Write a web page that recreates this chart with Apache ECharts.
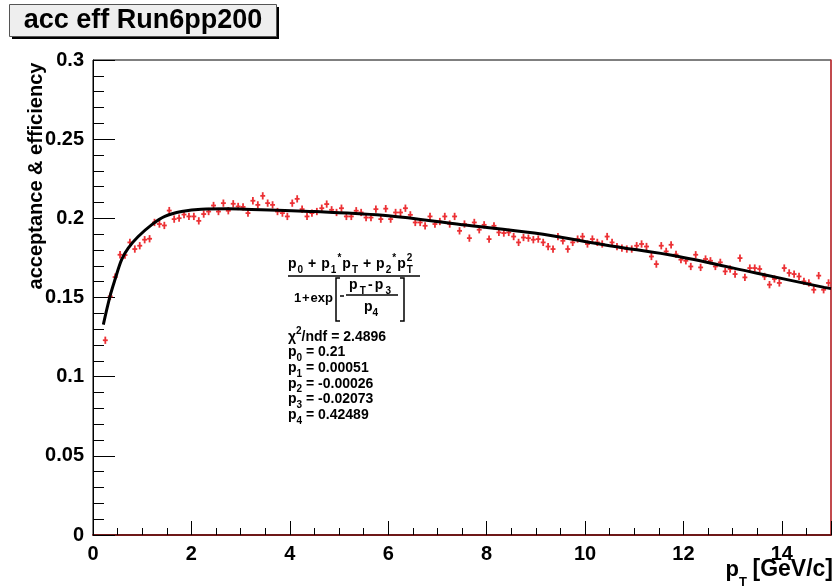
<!DOCTYPE html>
<html>
<head>
<meta charset="utf-8">
<script src="https://cdn.jsdelivr.net/npm/echarts@6/dist/echarts.min.js"></script>
<style>
  html, body { margin: 0; padding: 0; background: #fff; }
  #chart { width: 832px; height: 587px; }
</style>
</head>
<body>
<div id="chart"></div>
<script>
// bin centres, GeV/c
var pT = [
  0.25, 0.35, 0.45, 0.55, 0.65, 0.75, 0.85, 0.95, 1.05, 1.15,
  1.25, 1.35, 1.45, 1.55, 1.65, 1.75, 1.85, 1.95, 2.05, 2.15,
  2.25, 2.35, 2.45, 2.55, 2.65, 2.75, 2.85, 2.95, 3.05, 3.15,
  3.25, 3.35, 3.45, 3.55, 3.65, 3.75, 3.85, 3.95, 4.05, 4.15,
  4.25, 4.35, 4.45, 4.55, 4.65, 4.75, 4.85, 4.95, 5.05, 5.15,
  5.25, 5.35, 5.45, 5.55, 5.65, 5.75, 5.85, 5.95, 6.05, 6.15,
  6.25, 6.35, 6.45, 6.55, 6.65, 6.75, 6.85, 6.95, 7.05, 7.15,
  7.25, 7.35, 7.45, 7.55, 7.65, 7.75, 7.85, 7.95, 8.05, 8.15,
  8.25, 8.35, 8.45, 8.55, 8.65, 8.75, 8.85, 8.95, 9.05, 9.15,
  9.25, 9.35, 9.45, 9.55, 9.65, 9.75, 9.85, 9.95, 10.05, 10.15,
  10.25, 10.35, 10.45, 10.55, 10.65, 10.75, 10.85, 10.95, 11.05, 11.15,
  11.25, 11.35, 11.45, 11.55, 11.65, 11.75, 11.85, 11.95, 12.05, 12.15,
  12.25, 12.35, 12.45, 12.55, 12.65, 12.75, 12.85, 12.95, 13.05, 13.15,
  13.25, 13.35, 13.45, 13.55, 13.65, 13.75, 13.85, 13.95, 14.05, 14.15,
  14.25, 14.35, 14.45, 14.55, 14.65, 14.75, 14.85, 14.95
];

// acceptance x efficiency per bin
var accEff = [
  0.1230, 0.1507, 0.1629, 0.1770, 0.1768, 0.1848, 0.1806, 0.1827, 0.1865, 0.1871,
  0.1974, 0.1964, 0.1955, 0.2049, 0.1995, 0.2001, 0.2024, 0.2012, 0.2012, 0.1984,
  0.2027, 0.2043, 0.2081, 0.2043, 0.2096, 0.2048, 0.2092, 0.2075, 0.2072, 0.2033,
  0.2111, 0.2085, 0.2142, 0.2096, 0.2085, 0.2043, 0.2033, 0.2012, 0.2096, 0.2123,
  0.2058, 0.2012, 0.2033, 0.2043, 0.2064, 0.2090, 0.2054, 0.2037, 0.2064, 0.2012,
  0.2012, 0.2048, 0.2037, 0.2005, 0.2005, 0.2058, 0.1995, 0.2061, 0.1995, 0.2037,
  0.2037, 0.2064, 0.2022, 0.1974, 0.1974, 0.1953, 0.2012, 0.1964, 0.1980, 0.2012,
  0.1964, 0.2012, 0.1921, 0.1964, 0.1875, 0.1974, 0.1928, 0.1959, 0.1869, 0.1953,
  0.1911, 0.1907, 0.1911, 0.1885, 0.1848, 0.1879, 0.1875, 0.1865, 0.1869, 0.1848,
  0.1822, 0.1806, 0.1885, 0.1858, 0.1806, 0.1848, 0.1869, 0.1885, 0.1838, 0.1869,
  0.1848, 0.1838, 0.1885, 0.1848, 0.1822, 0.1812, 0.1806, 0.1806, 0.1827, 0.1838,
  0.1822, 0.1759, 0.1711, 0.1827, 0.1791, 0.1833, 0.1772, 0.1739, 0.1732, 0.1696,
  0.1770, 0.1690, 0.1743, 0.1732, 0.1696, 0.1722, 0.1665, 0.1680, 0.1648, 0.1749,
  0.1627, 0.1686, 0.1686, 0.1680, 0.1633, 0.1581, 0.1617, 0.1592, 0.1686, 0.1655,
  0.1648, 0.1633, 0.1602, 0.1592, 0.1549, 0.1638, 0.1549, 0.1592
];

// fit curve
var fitPt  = [0.21, 0.345, 0.446, 0.582, 0.716, 0.919, 1.19, 1.46, 1.80, 2.20, 2.74, 3.08, 4.5, 6.0, 7.5, 8.97, 10.5, 11.9, 13.5, 14.86, 15.0];
var fitVal = [0.1329, 0.1507, 0.1612, 0.1739, 0.1812, 0.1885, 0.1959, 0.2012, 0.2043, 0.2058, 0.2060, 0.2058, 0.2043, 0.2017, 0.1960, 0.1907, 0.1827, 0.1759, 0.1653, 0.1564, 0.1556];

var parNames  = ['0', '1', '2', '3', '4'];
var parValues = ['0.21', '0.00051', '-0.00026', '-0.02073', '0.42489'];
var chi2ndf = '2.4896';

var yErr = 0.0023;
var halfBin = 0.05;

var FONT = '"Liberation Sans", Arial, Helvetica, sans-serif';
var RED = '#ec3034';

var measureCtx = document.createElement('canvas').getContext('2d');

// lay out a run of text pieces with sub/superscripts
function mathRun(x, y, pieces, size, targetWidth) {
  var widths = [];
  var natural = 0;
  pieces.forEach(function (p) {
    var fs = p.s ? Math.round(size * 0.72) : size;
    measureCtx.font = 'bold ' + fs + 'px ' + FONT;
    var w = p.stay ? 0 : measureCtx.measureText(p.t).width;
    widths.push(w);
    natural += w;
  });
  var extra = 0;
  if (targetWidth && pieces.length > 1) {
    extra = (targetWidth - natural) / (pieces.length - 1);
  }
  var els = [];
  var cx = x;
  pieces.forEach(function (p, i) {
    var fs = p.s ? Math.round(size * 0.72) : size;
    var dy = p.s === 'sub' ? size * 0.42 : (p.s === 'sup' ? -size * 0.42 : 0);
    els.push({
      type: 'text', x: cx, y: y + dy, z: 50,
      style: {
        text: p.t, fill: '#000',
        font: 'bold ' + fs + 'px ' + FONT,
        verticalAlign: 'middle', align: 'left'
      }
    });
    if (!p.stay) cx += widths[i] + extra;
  });
  return els;
}

function seg(x1, y1, x2, y2, w) {
  return { type: 'line', z: 50, shape: { x1: x1, y1: y1, x2: x2, y2: y2 }, style: { stroke: '#000', lineWidth: w || 1.5 } };
}

var graphics = [];

// title box with shadow
graphics.push({ type: 'rect', z: 40, shape: { x: 12, y: 7, width: 267, height: 32 }, style: { fill: '#000' } });
graphics.push({ type: 'rect', z: 41, shape: { x: 9.5, y: 4.5, width: 267, height: 32 }, style: { fill: '#eeeeee', stroke: '#555', lineWidth: 1 } });
graphics.push({ type: 'text', z: 42, x: 143, y: 21, style: { text: 'acc eff Run6pp200', fill: '#000', font: 'bold 27px ' + FONT, align: 'center', verticalAlign: 'middle' } });

// axis titles
graphics.push({ type: 'text', z: 42, x: 36, y: 176, rotation: Math.PI / 2, style: { text: 'acceptance & efficiency', fill: '#000', font: 'bold 20px ' + FONT, align: 'center', verticalAlign: 'middle' } });
graphics.push({ type: 'text', z: 42, x: 833, y: 570, style: { text: '[GeV/c]', fill: '#000', font: 'bold 23px ' + FONT, align: 'right', verticalAlign: 'middle' } });
graphics.push({ type: 'text', z: 42, x: 739, y: 570, style: { text: 'p', fill: '#000', font: 'bold 22px ' + FONT, align: 'right', verticalAlign: 'middle' } });
graphics.push({ type: 'text', z: 42, x: 739, y: 582, style: { text: 'T', fill: '#000', font: 'bold 13px ' + FONT, align: 'left', verticalAlign: 'middle' } });

// fit function label
graphics = graphics.concat(mathRun(288, 264, [
  { t: 'p' }, { t: '0', s: 'sub' }, { t: ' + ' },
  { t: 'p' }, { t: '1', s: 'sub' }, { t: '*', s: 'sup' }, { t: 'p' }, { t: 'T', s: 'sub' }, { t: ' + ' },
  { t: 'p' }, { t: '2', s: 'sub' }, { t: '*', s: 'sup' }, { t: 'p' }, { t: '2', s: 'sup', stay: true }, { t: 'T', s: 'sub' }
], 14, 126));
graphics.push(seg(288, 276, 420, 276, 1.6));
graphics = graphics.concat(mathRun(294, 298, [{ t: '1' }, { t: '+' }, { t: 'exp' }], 13, 39));
// brackets
graphics.push({ type: 'polyline', z: 50, shape: { points: [[340, 278], [336, 278], [336, 321], [340, 321]] }, style: { stroke: '#000', lineWidth: 1.5, fill: null } });
graphics.push({ type: 'polyline', z: 50, shape: { points: [[400, 278], [404, 278], [404, 321], [400, 321]] }, style: { stroke: '#000', lineWidth: 1.5, fill: null } });
graphics.push(seg(340, 296, 344, 296, 1.5));
graphics = graphics.concat(mathRun(349, 285, [{ t: 'p' }, { t: 'T', s: 'sub' }, { t: '-' }, { t: 'p' }, { t: '3', s: 'sub' }], 14, 42));
graphics.push(seg(346, 295, 398, 295, 1.4));
graphics = graphics.concat(mathRun(364, 307, [{ t: 'p' }, { t: '4', s: 'sub' }], 14));

// fit statistics
graphics = graphics.concat(mathRun(288, 337, [{ t: '\u03c7' }, { t: '2', s: 'sup' }, { t: '/ndf = ' + chi2ndf }], 14));
parNames.forEach(function (n, i) {
  graphics = graphics.concat(mathRun(288, 352.5 + i * 15.6, [{ t: 'p' }, { t: n, s: 'sub' }, { t: ' = ' + parValues[i] }], 14));
});

var points = pT.map(function (x, i) { return [x, accEff[i]]; });
var fitLine = fitPt.map(function (x, i) { return [x, fitVal[i]]; });

var chart = echarts.init(document.getElementById('chart'));
var labelFont = { color: '#000', fontFamily: FONT, fontWeight: 'bold', fontSize: 20 };

var option = {
  backgroundColor: '#fff',
  animation: false,
  grid: {
    left: 93, right: 1, top: 60, bottom: 52,
    show: true, borderColor: '#000', borderWidth: 1, backgroundColor: 'transparent'
  },
  xAxis: [{
    type: 'value', min: 0, max: 15, interval: 2,
    axisLine: { lineStyle: { color: '#6e1818', width: 2 } },
    axisTick: { inside: true, length: 14, lineStyle: { color: '#000', width: 1 } },
    minorTick: { show: true, splitNumber: 4, length: 7, lineStyle: { color: '#000', width: 1 } },
    axisLabel: Object.assign({ margin: 9, showMaxLabel: false }, labelFont),
    splitLine: { show: false }
  }],
  yAxis: [{
    type: 'value', min: 0, max: 0.3, interval: 0.05,
    axisLine: { show: true, lineStyle: { color: '#000', width: 1 } },
    axisTick: { show: true, inside: true, length: 22, lineStyle: { color: '#000', width: 1 } },
    minorTick: { show: true, splitNumber: 5, length: 11, lineStyle: { color: '#000', width: 1 } },
    axisLabel: Object.assign({ margin: 9 }, labelFont),
    splitLine: { show: false }
  }, {
    type: 'value', min: 0, max: 0.3, position: 'right',
    axisLine: { show: true, lineStyle: { color: '#d8383c', width: 1.5 } },
    axisTick: { show: false }, axisLabel: { show: false }, splitLine: { show: false }
  }],
  series: [{
    type: 'custom',
    data: points,
    z: 2,
    renderItem: function (params, api) {
      var x = api.value(0), y = api.value(1);
      var c = api.coord([x, y]);
      var top = api.coord([x, y + yErr]);
      var bot = api.coord([x, y - yErr]);
      var l = api.coord([x - halfBin, y]);
      var r = api.coord([x + halfBin, y]);
      return {
        type: 'group',
        children: [
          { type: 'line', shape: { x1: c[0], y1: top[1], x2: c[0], y2: bot[1] }, style: { stroke: RED, lineWidth: 1.8 } },
          { type: 'line', shape: { x1: l[0], y1: c[1], x2: r[0], y2: c[1] }, style: { stroke: RED, lineWidth: 1.8 } }
        ]
      };
    }
  }, {
    type: 'line',
    data: fitLine,
    z: 5,
    smooth: 0.35,
    showSymbol: false,
    lineStyle: { color: '#000', width: 3 }
  }],
  graphic: graphics
};

chart.setOption(option);
</script>
</body>
</html>
